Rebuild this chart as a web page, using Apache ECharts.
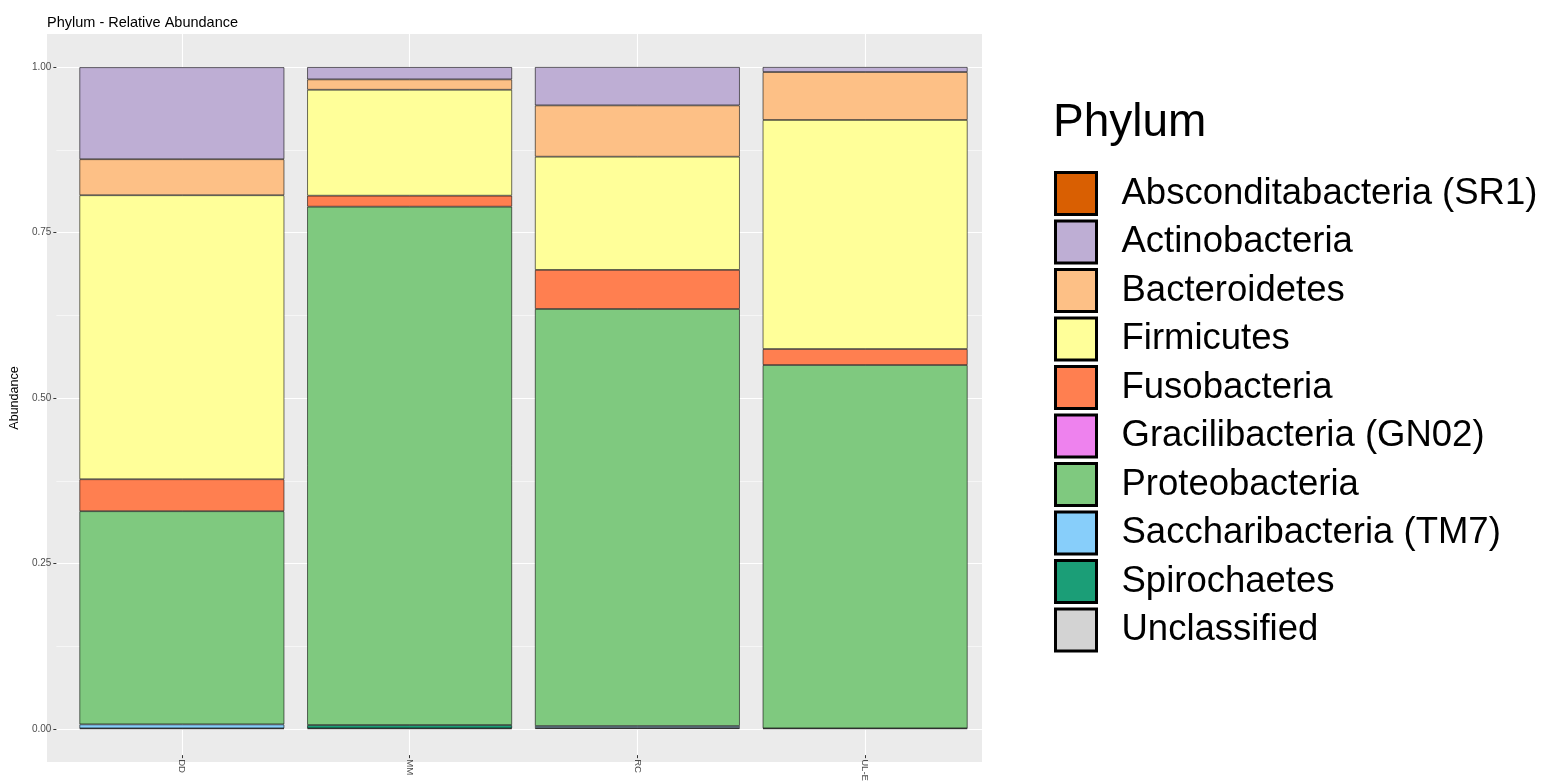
<!DOCTYPE html>
<html>
<head>
<meta charset="utf-8">
<title>Phylum - Relative Abundance</title>
<script src="https://cdn.jsdelivr.net/npm/echarts@6/dist/echarts.min.js"></script>
<style>
  html, body { margin: 0; padding: 0; background: #ffffff; }
  #chart { width: 1542px; height: 784px; }
</style>
</head>
<body>
<div id="chart"></div>
<script>
// Samples along the x axis
const samples = ['DD', 'MM', 'RC', 'UL-E'];

// Phyla in legend order (first one stacks on top)
const phyla = [
  'Absconditabacteria (SR1)',
  'Actinobacteria',
  'Bacteroidetes',
  'Firmicutes',
  'Fusobacteria',
  'Gracilibacteria (GN02)',
  'Proteobacteria',
  'Saccharibacteria (TM7)',
  'Spirochaetes',
  'Unclassified'
];

const phylumColors = [
  '#D95F02', '#BEAED4', '#FDC086', '#FFFF99', '#FF7F50',
  '#EE82EE', '#7FC97F', '#87CEFA', '#1B9E77', '#D3D3D3'
];

// Relative abundance per phylum, one value per sample (DD, MM, RC, UL-E)
const absconditabacteria = [0, 0, 0, 0];
const actinobacteria     = [0.139, 0.0186, 0.058, 0.0076];
const bacteroidetes      = [0.0544, 0.0157, 0.0775, 0.0724];
const firmicutes         = [0.429, 0.160, 0.171, 0.346];
const fusobacteria       = [0.0483, 0.0166, 0.059, 0.0242];
const gracilibacteria    = [0, 0, 0, 0];
const proteobacteria     = [0.322, 0.783, 0.630, 0.5488];
const saccharibacteria   = [0.006, 0, 0.003, 0];
const spirochaetes       = [0, 0.005, 0, 0];
const unclassified       = [0.001, 0.001, 0.0015, 0.001];

const abundance = [
  absconditabacteria, actinobacteria, bacteroidetes, firmicutes, fusobacteria,
  gracilibacteria, proteobacteria, saccharibacteria, spirochaetes, unclassified
];

const yTicks = [0, 0.25, 0.5, 0.75, 1];

const FONT = "'Liberation Sans', Arial, Helvetica, sans-serif";
const TICK_TEXT = '#4D4D4D';
const TICK_LINE = '#333333';

// Stack from the bottom up: last phylum first
const series = [];
for (let i = phyla.length - 1; i >= 0; i--) {
  series.push({
    name: phyla[i],
    type: 'bar',
    stack: 'total',
    xAxisIndex: 2,
    yAxisIndex: 2,
    barWidth: '90%',
    data: abundance[i].map(v => (v === 0 ? null : v)),
    itemStyle: {
      color: phylumColors[i],
      borderColor: 'rgba(0,0,0,0.72)',
      borderWidth: 0.8
    },
    emphasis: { disabled: true }
  });
}

const chart = echarts.init(document.getElementById('chart'), null, { renderer: 'canvas' });

chart.setOption({
  animation: false,
  backgroundColor: '#ffffff',
  textStyle: { fontFamily: FONT },
  color: phylumColors,
  title: [
    {
      text: 'Phylum - Relative Abundance',
      left: 47, top: 15, padding: 0,
      textStyle: { fontFamily: FONT, fontSize: 14.5, fontWeight: 'normal', color: '#000' }
    },
    {
      text: 'Phylum',
      left: 1053, top: 100, padding: 0,
      textStyle: { fontFamily: FONT, fontSize: 46, fontWeight: 'normal', color: '#000' }
    }
  ],
  // grey plotting panel
  graphic: [
    {
      type: 'rect',
      z: -100,
      silent: true,
      shape: { x: 47, y: 34, width: 935, height: 728 },
      style: { fill: '#EBEBEB' }
    }
  ],
  grid: [
    // sample axis: labels, ticks, vertical guide lines across the full panel
    { left: 68, right: 563, top: 34, bottom: 22 },
    // abundance axis: labels, ticks, horizontal guide lines across the panel
    { left: 47, right: 560, top: 67, bottom: 55 },
    // stacked bars
    { left: 68, right: 563, top: 67, bottom: 55 }
  ],
  xAxis: [
    {
      type: 'category',
      gridIndex: 0,
      data: samples,
      axisLine: { show: false },
      axisTick: { show: true, alignWithLabel: true, length: 3, lineStyle: { color: TICK_LINE } },
      axisLabel: { rotate: -90, margin: 4, fontSize: 9.6, color: TICK_TEXT, fontFamily: FONT },
      splitLine: { show: true, alignWithLabel: true, lineStyle: { color: '#ffffff', width: 1.1 } }
    },
    { type: 'category', gridIndex: 1, data: samples, show: false },
    { type: 'category', gridIndex: 2, data: samples, show: false }
  ],
  yAxis: [
    { type: 'value', gridIndex: 0, min: 0, max: 1, show: false },
    {
      type: 'value',
      gridIndex: 1,
      min: yTicks[0],
      max: yTicks[yTicks.length - 1],
      interval: yTicks[1] - yTicks[0],
      name: 'Abundance',
      nameLocation: 'middle',
      nameGap: 26,
      nameTextStyle: { fontFamily: FONT, fontSize: 12.5, color: '#000' },
      axisLine: { show: false },
      axisTick: { show: true, length: 3, lineStyle: { color: TICK_LINE } },
      axisLabel: {
        margin: 5, fontSize: 10, color: TICK_TEXT, fontFamily: FONT,
        formatter: v => v.toFixed(2)
      },
      splitLine: { show: true, lineStyle: { color: '#ffffff', width: 1.1 } },
      minorTick: { show: false, splitNumber: 2 },
      minorSplitLine: { show: true, lineStyle: { color: '#ffffff', width: 0.55 } }
    },
    { type: 'value', gridIndex: 2, min: 0, max: 1, show: false }
  ],
  legend: {
    data: phyla,
    orient: 'vertical',
    left: 1054,
    top: 171,
    padding: 0,
    icon: 'rect',
    itemWidth: 41,
    itemHeight: 42,
    itemGap: 3.5,
    selectedMode: false,
    itemStyle: { borderColor: '#000000', borderWidth: 3 },
    textStyle: {
      fontFamily: FONT, fontSize: 36.5, lineHeight: 42,
      color: '#000', padding: [0, 0, 0, 20]
    }
  },
  series: series
});
</script>
</body>
</html>
